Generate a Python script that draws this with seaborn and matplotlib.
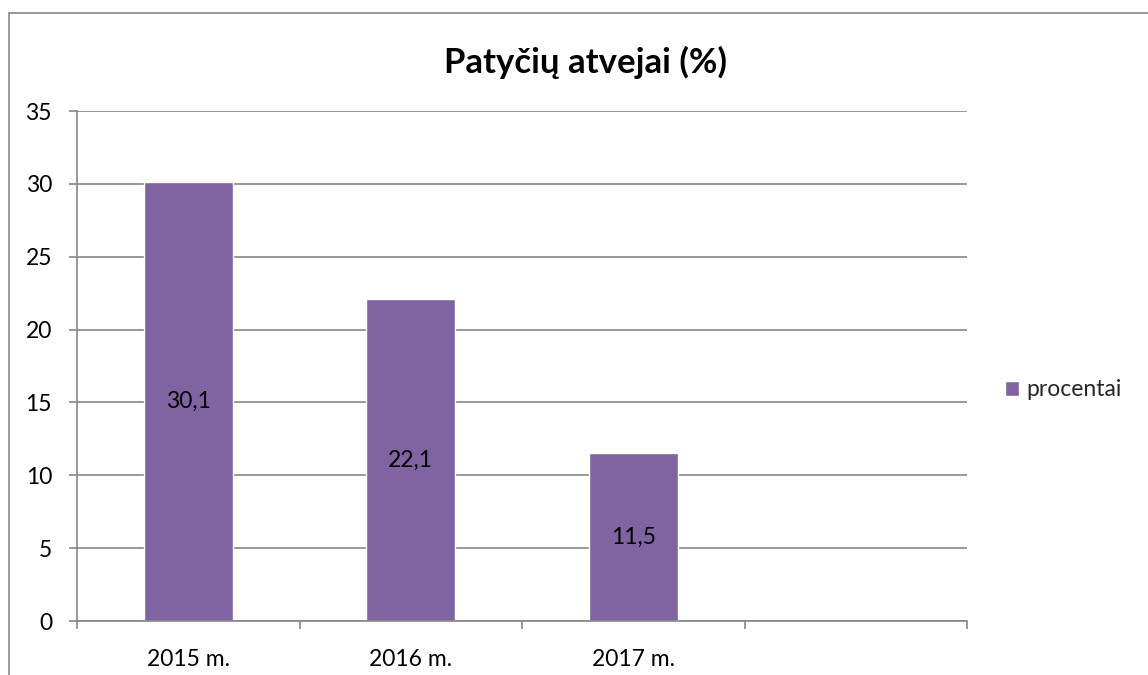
import matplotlib
matplotlib.use('Agg')
import matplotlib.pyplot as plt
import seaborn as sns
import pandas as pd
from matplotlib.patches import Rectangle

# chart data
years = ['2015 m.', '2016 m.', '2017 m.']
values = [30.1, 22.1, 11.5]
value_labels = ['30,1', '22,1', '11,5']
categories = years + ['']  # fourth, empty category slot
series_name = 'procentai'
y_ticks = [0, 5, 10, 15, 20, 25, 30, 35]

bar_color = '#8064A2'
grid_color = '#868686'
label_size = 16.5

sns.set_theme(style='white')
plt.rcParams['font.family'] = ['Lato', 'DejaVu Sans']

df = pd.DataFrame({'year': years, 'value': values, 'series': series_name})

fig = plt.figure(figsize=(11.48, 6.75), dpi=100)
ax = fig.add_axes([77 / 1148, 1 - 621 / 675, (967 - 77) / 1148, (621 - 111) / 675])

sns.barplot(data=df, x='year', y='value', order=categories, color=bar_color,
            width=0.40, saturation=1, ax=ax, label=series_name)

ax.set_xlim(-0.5, len(categories) - 0.5)
ax.set_ylim(0, 35)
ax.set_yticks(y_ticks)
ax.set_xlabel('')
ax.set_ylabel('')

# gridlines
ax.grid(axis='y', color=grid_color, linewidth=1.2)
ax.set_axisbelow(True)

# spines
for side in ['top', 'right']:
    ax.spines[side].set_visible(False)
for side in ['left', 'bottom']:
    ax.spines[side].set_color(grid_color)
    ax.spines[side].set_linewidth(1.2)

# ticks
ax.tick_params(axis='y', which='major', length=6, width=1.2, color=grid_color,
               direction='out', pad=12, labelsize=label_size, labelcolor='black', left=True)
ax.tick_params(axis='x', which='major', length=0, pad=20, labelsize=label_size, labelcolor='black')
ax.set_xticks([i - 0.5 for i in range(len(categories) + 1)], minor=True)
ax.tick_params(axis='x', which='minor', length=6, width=1.2, color=grid_color,
               direction='out', bottom=True)

# value labels in the middle of each bar
for i, (v, lab) in enumerate(zip(values, value_labels)):
    ax.text(i, v / 2, lab, ha='center', va='center', fontsize=label_size, color='black')

# title
fig.text(586 / 1148, 1 - 62 / 675, 'Patyčių atvejai (%)', ha='center', va='center',
         fontsize=25, fontweight='bold', color='black')

# legend
ax.legend(loc='center left', bbox_to_anchor=(994 / 1148, 1 - 390 / 675),
          bbox_transform=fig.transFigure, frameon=False, fontsize=label_size,
          handlelength=0.6, handleheight=0.6, handletextpad=0.3, borderpad=0)

# outer chart frame
fig.patches.append(Rectangle((9 / 1148, -0.1), 1.2, 1.1 - 13 / 675, transform=fig.transFigure,
                             fill=False, edgecolor=grid_color, linewidth=1.2))

fig.savefig('out.png', dpi=100)
